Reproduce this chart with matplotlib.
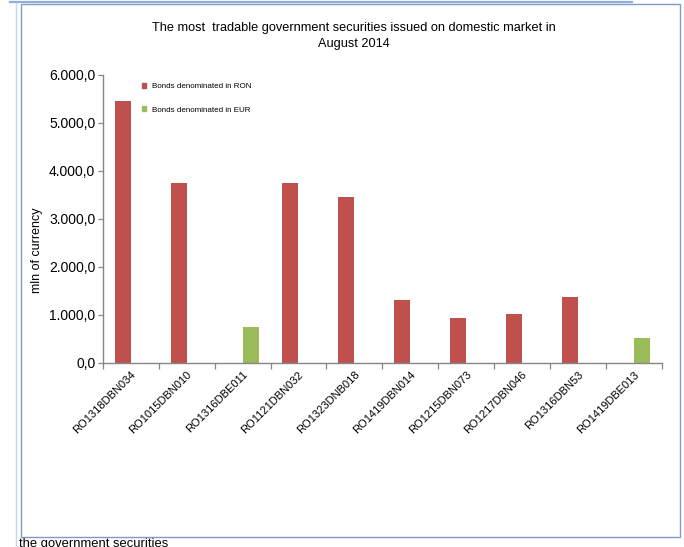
import numpy as np
import matplotlib.pyplot as plt
from matplotlib.lines import Line2D
from matplotlib.patches import Rectangle, Patch
from matplotlib.ticker import FuncFormatter, FixedLocator

plt.rcParams['font.family'] = ['Liberation Sans', 'DejaVu Sans']

securities = ['RO1318DBN034', 'RO1015DBN010', 'RO1316DBE011', 'RO1121DBN032',
              'RO1323DNB018', 'RO1419DBN014', 'RO1215DBN073', 'RO1217DBN046',
              'RO1316DBN53', 'RO1419DBE013']
bonds_ron = [5460, 3740, 0, 3745, 3445, 1310, 935, 1020, 1375, 0]
bonds_eur = [0, 0, 750, 0, 0, 0, 0, 0, 0, 515]
y_ticks = [0, 1000, 2000, 3000, 4000, 5000, 6000]

RED = '#C0504D'
GREEN = '#9BBB59'
AXIS = '#868686'
FRAME = '#7F9CC8'

W, H = 684, 547
fig = plt.figure(figsize=(W / 100, H / 100), dpi=100)

# page decorations around the embedded chart
fig.add_artist(Line2D([10 / W, 632 / W], [1 - 1.5 / H, 1 - 1.5 / H],
                      transform=fig.transFigure, color='#8FAEDB', lw=1.6))
fig.add_artist(Line2D([16 / W, 16 / W], [0, 1 - 3 / H],
                      transform=fig.transFigure, color='#C9D6EC', lw=1.0))
fig.add_artist(Rectangle((21 / W, 1 - 537 / H), 659 / W, 533 / H,
                         transform=fig.transFigure, fill=False,
                         edgecolor=FRAME, lw=1.0))
fig.text(19 / W, 1 - 550 / H, 'the government securities', fontsize=9.4,
         ha='left', va='bottom', color='black')

ax = fig.add_axes([103 / W, 1 - 362.6 / H, 558.5 / W, 287.6 / H])

x = np.arange(len(securities))
width = 0.29
ax.bar(x - 0.145, bonds_ron, width, color=RED, linewidth=0,
       label='Bonds denominated in RON')
ax.bar(x + 0.145, bonds_eur, width, color=GREEN, linewidth=0,
       label='Bonds denominated in EUR')

ax.set_xlim(-0.5, len(securities) - 0.5)
ax.set_ylim(0, 6000)
ax.set_yticks(y_ticks)
ax.yaxis.set_major_formatter(FuncFormatter(
    lambda v, _: f'{v:,.1f}'.replace(',', ' ').replace('.', ',').replace(' ', '.')))
ax.tick_params(axis='y', labelsize=10, length=3.5, color=AXIS, width=0.9, pad=2)

# labels at category centres, tick marks at category boundaries
ax.set_xticks(x)
ax.set_xticklabels(securities, rotation=45, ha='right', rotation_mode='anchor',
                   fontsize=8)
ax.tick_params(axis='x', which='major', length=0, pad=5)
ax.xaxis.set_minor_locator(FixedLocator(np.arange(-0.5, len(securities), 1.0)))
ax.tick_params(axis='x', which='minor', length=4.5, color=AXIS, width=0.9)

for side in ['top', 'right']:
    ax.spines[side].set_visible(False)
for side in ['left', 'bottom']:
    ax.spines[side].set_color(AXIS)
    ax.spines[side].set_linewidth(1.0)

ax.set_ylabel('mln of currency', fontsize=9)
ax.yaxis.set_label_coords(-0.108, 0.39)

handles = [Patch(color=RED, label='Bonds denominated in RON'),
           Patch(color=GREEN, label='Bonds denominated in EUR')]
fig.legend(handles=handles, loc='upper left',
           bbox_to_anchor=(142 / W, 1 - 83 / H), frameon=False, fontsize=5.8,
           handlelength=0.55, handleheight=0.55, handletextpad=0.75,
           labelspacing=2.0, borderpad=0, borderaxespad=0)

fig.text(354 / W, 1 - 36 / H,
         'The most  tradable government securities issued on domestic market in\nAugust 2014',
         ha='center', va='center', fontsize=9.2, linespacing=1.45)

fig.savefig('out.png', dpi=100)
